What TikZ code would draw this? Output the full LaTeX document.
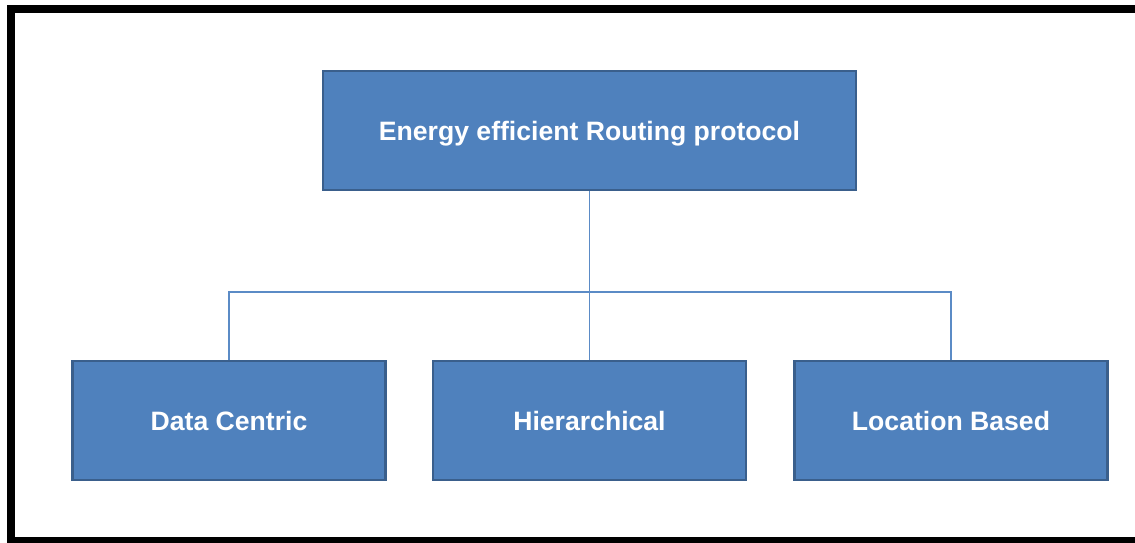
\documentclass[tikz,border=0pt]{standalone}
\usepackage{fontspec}
\setmainfont{Liberation Sans}
\usepackage{tikz}
\usetikzlibrary{calc}
\definecolor{boxfill}{HTML}{4F81BD}
\definecolor{boxline}{HTML}{3A5F8C}
\definecolor{linkline}{HTML}{5B8BC6}
\tikzset{
	box/.style={draw=boxline, line width=2.2pt, fill=boxfill, text=white, minimum width=#1, minimum height=119pt, inner sep=0pt, text height=23pt, text depth=3pt, font=\fontsize{26.6}{30}\selectfont\bfseries},
	box/.default=313pt,
	link/.style={draw=linkline, line width=1.6pt}
}
\begin{document}
\begin{tikzpicture}[x=1pt,y=-1pt]
				\useasboundingbox (0,0) rectangle (1135,542);
				\scope
				\clip (0,0) rectangle (1135,542);
				\fill[white] (0,0) rectangle (1135,542);
				\draw[line width=8pt] (11,9) rectangle (1150,541);
				\endscope
				\node[box=533pt] (root) at (589.5,130.5) {Energy efficient Routing protocol};
				\node[box] (datacentric) at (229,420.5) {Data Centric};
				\node[box] (hierarchical) at (589.5,420.5) {Hierarchical};
				\node[box] (location) at (951,420.5) {Location Based};
				\coordinate (fork) at ($(root.south)+(0,101)$);
				\draw[link] (root.south) -- (hierarchical.north);
				\draw[link] (datacentric.north) |- (fork) -| (location.north);
			\end{tikzpicture}
\end{document}
